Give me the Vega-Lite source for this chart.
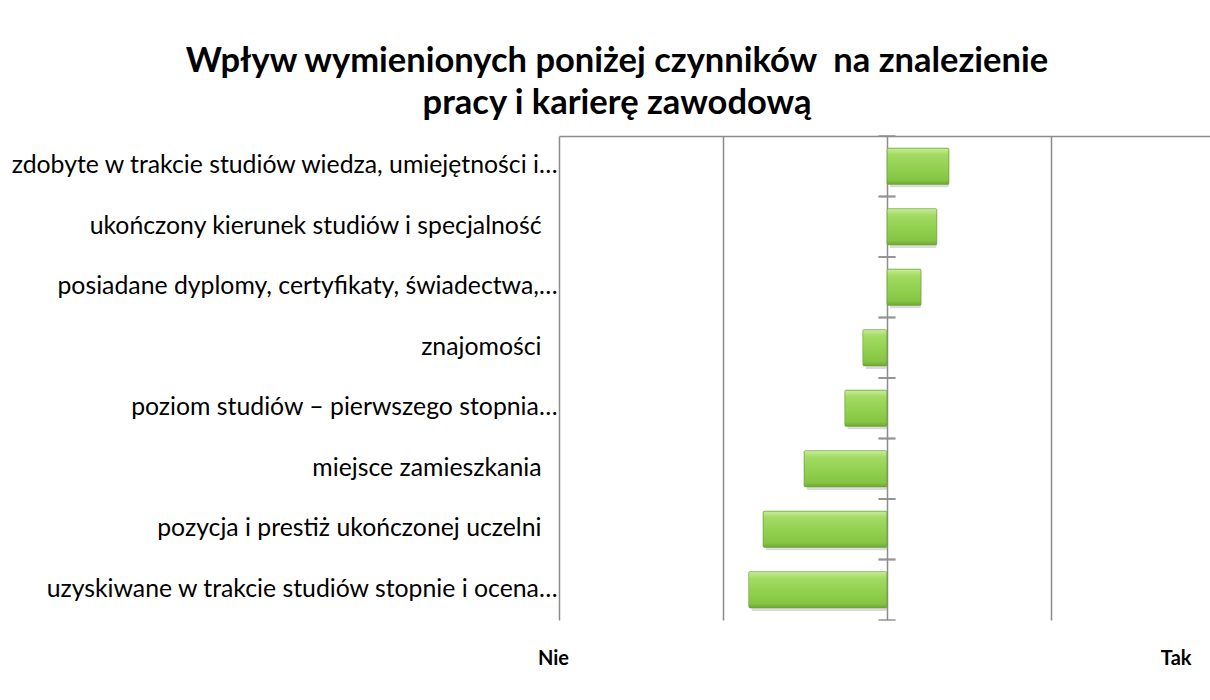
{
  "$schema": "https://vega.github.io/schema/vega-lite/v6.json",
  "width": 656,
  "height": 484,
  "autosize": {"type": "none"},
  "padding": {"left": 559, "top": 136, "right": 0, "bottom": 80},
  "background": "white",
  "title": {
    "text": ["Wpływ wymienionych poniżej czynników\u00a0 na znalezienie", "pracy i karierę zawodową"],
    "font": "Lato",
    "fontSize": 34.5,
    "fontWeight": "bold",
    "color": "#000000",
    "anchor": "middle",
    "frame": "group",
    "dx": -270,
    "lineHeight": 42,
    "baseline": "bottom",
    "offset": -20
  },
  "data": {
    "values": [
      {"czynnik": "zdobyte w trakcie studiów wiedza, umiejętności i…", "wplyw": 0.189},
      {"czynnik": "ukończony kierunek studiów i specjalność", "wplyw": 0.152},
      {"czynnik": "posiadane dyplomy, certyfikaty, świadectwa,…", "wplyw": 0.104},
      {"czynnik": "znajomości", "wplyw": -0.074},
      {"czynnik": "poziom studiów – pierwszego stopnia…", "wplyw": -0.129},
      {"czynnik": "miejsce zamieszkania", "wplyw": -0.253},
      {"czynnik": "pozycja i prestiż ukończonej uczelni", "wplyw": -0.378},
      {"czynnik": "uzyskiwane w trakcie studiów stopnie i ocena…", "wplyw": -0.422}
    ]
  },
  "encoding": {
    "y": {
      "field": "czynnik",
      "type": "nominal",
      "sort": null,
      "scale": {"paddingInner": 0, "paddingOuter": 0},
      "axis": {
        "orient": "left",
        "title": null,
        "domain": false,
        "ticks": false,
        "grid": false,
        "labelFont": "Lato",
        "labelFontSize": 24.8,
        "labelColor": "#000000",
        "labelLimit": 1000,
        "labelPadding": {"expr": "indexof(datum.label, '…') >= 0 ? 2 : 18"}
      }
    }
  },
  "layer": [
    {
      "mark": {
        "type": "bar",
        "height": {"band": 0.6},
        "color": "#000000",
        "opacity": 0.14,
        "xOffset": 3,
        "yOffset": 3,
        "cornerRadius": 2
      },
      "encoding": {
        "x": {
          "field": "wplyw",
          "type": "quantitative",
          "scale": {"domain": [-1, 1], "nice": false, "zero": true},
          "axis": {
            "orient": "top",
            "title": null,
            "values": [-1, -0.5, 0, 0.5, 1],
            "labels": false,
            "ticks": false,
            "domain": true,
            "domainColor": "#8c8c8c",
            "domainWidth": 1.5,
            "grid": true,
            "gridColor": "#8c8c8c",
            "gridWidth": 1.5
          }
        }
      }
    },
    {
      "mark": {
        "type": "bar",
        "height": {"band": 0.6},
        "stroke": "#6ea636",
        "strokeWidth": 0.6,
        "cornerRadius": 1.5,
        "fill": {
          "x1": 0, "y1": 0, "x2": 0, "y2": 1,
          "gradient": "linear",
          "stops": [
            {"offset": 0, "color": "#c9ee9a"},
            {"offset": 0.18, "color": "#a3db63"},
            {"offset": 0.55, "color": "#92d050"},
            {"offset": 0.88, "color": "#86c444"},
            {"offset": 1, "color": "#6ea636"}
          ]
        }
      },
      "encoding": {
        "x": {"field": "wplyw", "type": "quantitative", "axis": null}
      }
    },
    {
      "mark": {"type": "tick", "orient": "horizontal", "size": 17, "thickness": 2, "color": "#8c8c8c"},
      "encoding": {
        "x": {
          "datum": 0,
          "type": "quantitative",
          "axis": {
            "orient": "bottom",
            "title": null,
            "values": [-1, 1],
            "labelExpr": "datum.value < 0 ? 'Nie' : 'Tak'",
            "labelAlign": {"expr": "datum.value < 0 ? 'center' : 'right'"},
            "labelOffset": {"expr": "datum.value < 0 ? -6 : -24"},
            "labelFlush": false,
            "labelOverlap": false,
            "labelBaseline": "alphabetic",
            "labelPadding": 44,
            "labelFont": "Lato",
            "labelFontSize": 20,
            "labelFontWeight": "bold",
            "labelColor": "#000000",
            "ticks": false,
            "domain": false,
            "grid": false
          }
        },
        "y": {"field": "czynnik", "type": "nominal", "sort": null, "bandPosition": 1}
      }
    },
    {
      "mark": {"type": "tick", "orient": "horizontal", "size": 17, "thickness": 2, "color": "#8c8c8c"},
      "encoding": {
        "x": {"datum": 0, "type": "quantitative", "axis": null},
        "y": {"field": "czynnik", "type": "nominal", "sort": null, "bandPosition": 0}
      }
    }
  ],
  "resolve": {"axis": {"x": "independent"}},
  "config": {
    "view": {"stroke": null},
    "font": "Lato"
  }
}
